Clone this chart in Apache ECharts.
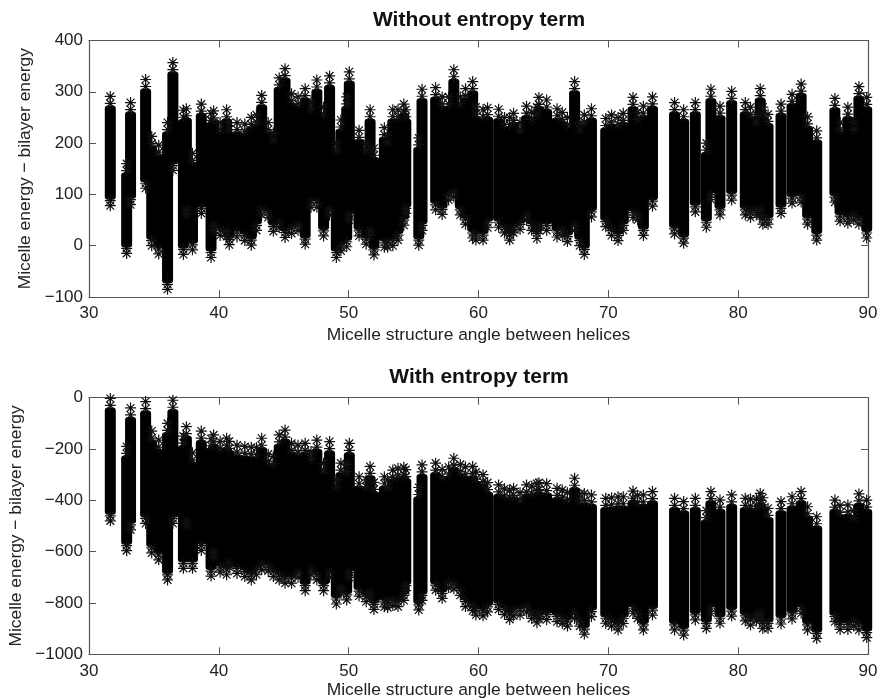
<!DOCTYPE html>
<html><head><meta charset="utf-8">
<style>html,body{margin:0;padding:0;background:#fff}#c{width:880px;height:698px}</style>
<script src="https://cdn.jsdelivr.net/npm/echarts@6/dist/echarts.min.js"></script>
</head><body><div id="c"></div>
<script>
const angles = [31.64,32.9,33.2,34.36,34.83,35.37,36.05,36.46,37.27,37.5,37.97,38.65,39.4,39.6,40.1,40.6,40.8,41.4,42,42.5,42.9,43.3,43.8,44.2,44.65,45.1,45.6,46.1,46.65,47.1,47.55,48.07,48.53,49.05,49.4,49.85,50.05,50.8,51.35,51.65,51.95,52.75,53,53.4,53.8,54.25,54.4,55.4,55.65,56.7,57.2,57.7,58.1,58.6,59,59.55,59.8,60.35,60.7,61.55,62,62.4,62.7,63.2,63.7,64.1,64.5,64.65,65.25,66.05,66.45,66.85,67.4,67.8,68.15,68.7,69.8,70.25,70.75,71.15,71.9,72.25,72.7,73.4,75.1,75.8,76.7,77.55,77.9,78.6,79.5,80.55,80.95,81.4,81.7,81.9,82.3,83.3,84.15,84.85,85.35,86.05,87.45,87.85,88.45,88.9,89.3,89.9];
const topNoEntropy = [291,160,279,324,213,196,240,357,264,267,180,276,258,263,240,265,240,240,237,250,255,293,240,220,327,345,296,290,306,280,323,270,331,200,245,290,339,225,200,265,190,230,215,265,265,276,265,210,305,308,290,290,343,290,306,320,270,265,269,266,250,250,258,240,272,260,270,289,284,267,260,250,320,240,255,267,248,255,250,258,289,260,272,290,279,265,279,200,305,272,301,279,270,255,306,270,256,276,295,315,251,224,287,240,270,240,310,289];
const lowNoEntropy = [78,-15,80,112,0,-16,-85,147,-17,60,-8,63,-23,30,20,18,2,17,10,1,30,60,55,28,35,16,24,30,3,75,75,19,60,-23,-10,-2,50,19,3,20,-18,-3,-3,0,11,40,63,1,30,70,61,89,95,60,42,15,11,11,35,36,25,11,25,32,50,30,14,30,30,17,20,8,30,0,-17,56,37,20,10,30,55,50,20,77,23,5,66,36,90,60,89,60,55,60,60,42,42,63,83,85,42,11,85,48,44,50,42,15];
const topEntropy = [-3,-190,-40,-15,-130,-165,-100,-10,-150,-113,-215,-130,-160,-145,-170,-158,-170,-185,-190,-193,-195,-158,-220,-230,-145,-126,-178,-185,-178,-210,-165,-255,-171,-320,-255,-260,-178,-308,-320,-268,-330,-308,-320,-282,-275,-271,-280,-350,-262,-255,-280,-270,-236,-260,-270,-268,-290,-300,-331,-340,-355,-360,-353,-370,-340,-345,-335,-331,-335,-353,-360,-370,-314,-375,-373,-379,-392,-390,-386,-386,-364,-380,-379,-366,-392,-405,-392,-440,-366,-399,-379,-392,-395,-395,-373,-390,-431,-405,-386,-366,-425,-464,-399,-420,-418,-440,-375,-399];
const lowEntropy = [-480,-596,-515,-490,-605,-632,-710,-490,-665,-500,-665,-595,-695,-620,-680,-690,-660,-685,-697,-710,-690,-670,-675,-697,-710,-723,-723,-700,-752,-690,-710,-752,-700,-804,-760,-788,-700,-773,-795,-780,-825,-815,-818,-810,-814,-790,-752,-827,-790,-750,-782,-740,-745,-770,-814,-830,-847,-850,-835,-825,-845,-864,-850,-847,-835,-860,-877,-860,-865,-873,-880,-890,-860,-890,-921,-853,-879,-890,-905,-880,-840,-860,-905,-847,-905,-925,-866,-899,-840,-879,-851,-870,-886,-870,-860,-899,-899,-882,-862,-840,-905,-938,-873,-903,-903,-890,-905,-935];
const titles = ['Without entropy term','With entropy term'];
const xName = 'Micelle structure angle between helices';
const yName = 'Micelle energy \u2212 bilayer energy';

const TXT = '#222', LINE = '#555';
const FONT = '"Liberation Sans", Arial, sans-serif';
const STAR = 'path://M0 -5L0 5M-5 0L5 0M-3.54 -3.54L3.54 3.54M-3.54 3.54L3.54 -3.54';
const fmt = v => String(v).replace('-', '\u2212');

function axes(gridIndex, yMin, yMax, yStep, nameGapX, nameGapY, labelGapX) {
  const tick = {show:true, inside:true, length:7, lineStyle:{color:LINE, width:1}};
  const line = {show:true, onZero:false, lineStyle:{color:LINE, width:1.2}};
  const base = {gridIndex, min:30, max:90, interval:10, type:'value', splitLine:{show:false}, axisLine:line, axisTick:tick};
  const baseY = {gridIndex, min:yMin, max:yMax, interval:yStep, type:'value', splitLine:{show:false}, axisLine:line, axisTick:tick};
  return {
    x:[
      {...base, position:'bottom', name:xName, nameLocation:'center', nameGap:nameGapX,
       nameTextStyle:{color:TXT, fontFamily:FONT, fontSize:17.4},
       axisLabel:{color:TXT, fontFamily:FONT, fontSize:17, margin:labelGapX, hideOverlap:false}},
      {...base, position:'top', axisLabel:{show:false}}
    ],
    y:[
      {...baseY, position:'left', name:yName, nameLocation:'center', nameGap:nameGapY,
       nameTextStyle:{color:TXT, fontFamily:FONT, fontSize:17.4},
       axisLabel:{color:TXT, fontFamily:FONT, fontSize:17, margin:6, formatter:fmt}},
      {...baseY, position:'right', axisLabel:{show:false}}
    ]
  };
}

function stars(idx, pts, offset) {
  return {type:'scatter', xAxisIndex:idx*2, yAxisIndex:idx*2, data:pts, clip:false, silent:true,
    symbol:STAR, symbolSize:11, symbolOffset:[0, offset],
    itemStyle:{color:'none', borderColor:'#111', borderWidth:1.2, opacity:1}};
}

function panel(idx, hi, lo) {
  const bodies = angles.map((a, i) => [a, hi[i], lo[i]]);
  const tops = angles.map((a, i) => [a, hi[i]]);
  const lows = angles.map((a, i) => [a, lo[i]]);
  return [
    {type:'custom', xAxisIndex:idx*2, yAxisIndex:idx*2, data:bodies, encode:{x:0, y:[1,2]}, silent:true,
     renderItem(params, api) {
       const t = api.coord([api.value(0), api.value(1)]);
       const b = api.coord([api.value(0), api.value(2)]);
       return {type:'rect', shape:{x:t[0]-5.5, y:t[1]+9, width:11, height:Math.max(b[1]-t[1]-15, 1), r:3}, style:{fill:'#000'}};
     }},
    stars(idx, tops, 0), stars(idx, tops, 7),
    stars(idx, lows, 0), stars(idx, lows, -5)
  ];
}

const a1 = axes(0, -100, 400, 100, 30, 49, 8);
const a2 = axes(1, -1000, 0, 200, 27, 60, 9);
const chart = echarts.init(document.getElementById('c'), null, {renderer:'canvas'});
chart.setOption({
  animation:false,
  backgroundColor:'#fff',
  title:[
    {text:titles[0], left:474, top:5, textAlign:'center', textStyle:{color:'#111', fontFamily:FONT, fontSize:21, fontWeight:'bold'}},
    {text:titles[1], left:474, top:362, textAlign:'center', textStyle:{color:'#111', fontFamily:FONT, fontSize:21, fontWeight:'bold'}}
  ],
  grid:[
    {left:89, top:40.5, width:779, height:256.5, containLabel:false, outerBoundsMode:'none'},
    {left:89, top:397.7, width:779, height:256.6, containLabel:false, outerBoundsMode:'none'}
  ],
  xAxis:[...a1.x, ...a2.x],
  yAxis:[...a1.y, ...a2.y],
  series:[...panel(0, topNoEntropy, lowNoEntropy), ...panel(1, topEntropy, lowEntropy)]
});
</script></body></html>
